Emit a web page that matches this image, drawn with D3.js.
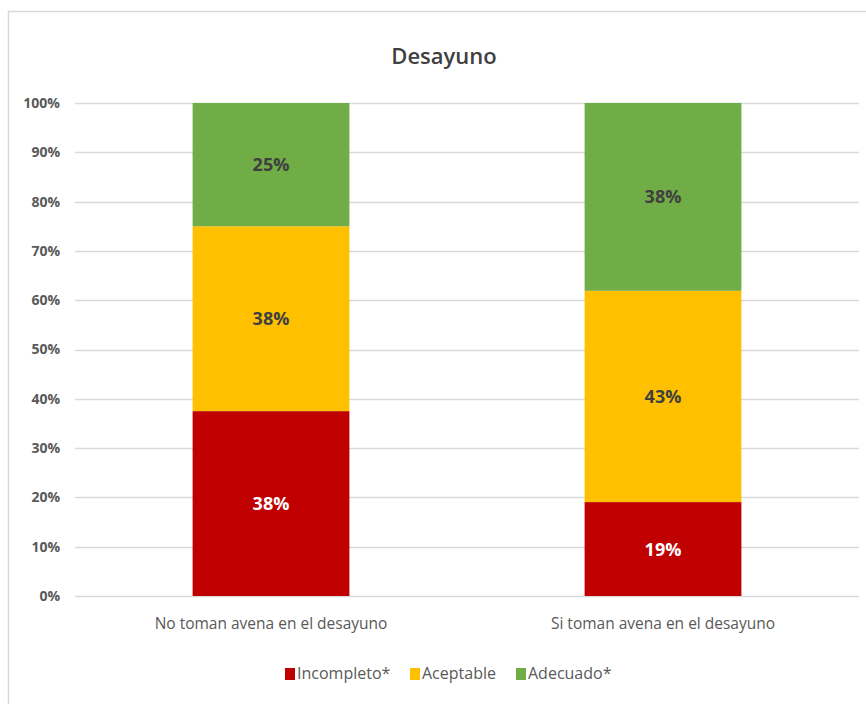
<!DOCTYPE html>
<html>
<head>
<meta charset="utf-8">
<script src="https://cdn.jsdelivr.net/npm/d3@7"></script>
<style>
  html, body { margin: 0; padding: 0; background: #fff; }
  svg { display: block; font-family: "Open Sans", sans-serif; }
</style>
</head>
<body>
<svg id="chart" width="866" height="704"></svg>
<script>
// Categories and stacked shares (fraction of each group)
const categories = ["No toman avena en el desayuno", "Si toman avena en el desayuno"];
const seriesNames = ["Incompleto*", "Aceptable", "Adecuado*"];
const incompleto = [0.375, 0.1905];
const aceptable  = [0.375, 0.4286];
const adecuado   = [0.25,  0.381];
const yTicks = [0, 0.1, 0.2, 0.3, 0.4, 0.5, 0.6, 0.7, 0.8, 0.9, 1.0];

const colors = { "Incompleto*": "#C00000", "Aceptable": "#FFC000", "Adecuado*": "#70AD47" };
const labelColors = { "Incompleto*": "#ffffff", "Aceptable": "#404040", "Adecuado*": "#404040" };

const rows = categories.map((c, i) => ({
  category: c,
  "Incompleto*": incompleto[i],
  "Aceptable": aceptable[i],
  "Adecuado*": adecuado[i]
}));

const svg = d3.select("#chart");

// Outer chart frame
svg.append("rect")
  .attr("x", 8.5).attr("y", 11.5)
  .attr("width", 900).attr("height", 720)
  .attr("fill", "#fff").attr("stroke", "#D9D9D9").attr("stroke-width", 1.5);

const x = d3.scaleBand().domain(categories).range([75, 859])
  .paddingInner(0.6).paddingOuter(0.3);
const y = d3.scaleLinear().domain([0, 1]).range([596, 103]);

// Title
svg.append("text")
  .attr("x", 444).attr("y", 64)
  .attr("text-anchor", "middle")
  .attr("font-size", 22).attr("font-weight", 600)
  .attr("fill", "#404040")
  .text("Desayuno");

// Gridlines
svg.append("g").selectAll("line").data(yTicks).join("line")
  .attr("x1", 75).attr("x2", 859)
  .attr("y1", d => Math.round(y(d)) + 0.5).attr("y2", d => Math.round(y(d)) + 0.5)
  .attr("stroke", "#D9D9D9").attr("stroke-width", 1.5);

// Y axis
const yAxis = svg.append("g")
  .attr("transform", "translate(66,0)")
  .call(d3.axisLeft(y).tickValues(yTicks).tickFormat(d3.format(".0%")).tickSize(0).tickPadding(6));
yAxis.select(".domain").remove();
yAxis.selectAll("text")
  .attr("font-size", 14).attr("font-weight", "bold")
  .attr("fill", "#595959").attr("font-family", "Open Sans, sans-serif");

// Stacked bars
const stack = d3.stack().keys(seriesNames)(rows);
const layers = svg.append("g").selectAll("g").data(stack).join("g")
  .attr("fill", d => colors[d.key]);
layers.selectAll("rect").data(d => d).join("rect")
  .attr("x", d => x(d.data.category))
  .attr("width", x.bandwidth())
  .attr("y", d => y(d[1]))
  .attr("height", d => y(d[0]) - y(d[1]));

// Segment value labels
const fmt = d3.format(".0%");
svg.append("g").selectAll("text")
  .data(stack.flatMap(s => s.map(p => ({ key: s.key, p }))))
  .join("text")
  .attr("x", d => x(d.p.data.category) + x.bandwidth() / 2)
  .attr("y", d => (y(d.p[0]) + y(d.p[1])) / 2)
  .attr("dy", "0.36em")
  .attr("text-anchor", "middle")
  .attr("font-size", 18).attr("font-weight", "bold")
  .attr("fill", d => labelColors[d.key])
  .text(d => fmt(d.p[1] - d.p[0]));

// X axis category labels
const xAxis = svg.append("g")
  .attr("transform", "translate(0,596)")
  .call(d3.axisBottom(x).tickSize(0).tickPadding(22));
xAxis.select(".domain").remove();
xAxis.selectAll("text")
  .attr("font-size", 15.5).attr("fill", "#595959")
  .attr("font-family", "Open Sans, sans-serif");

// Legend
const legendX = [285, 410, 516];
const legend = svg.append("g").selectAll("g").data(seriesNames).join("g")
  .attr("transform", (d, i) => `translate(${legendX[i]},668)`);
legend.append("rect")
  .attr("width", 10).attr("height", 12)
  .attr("fill", d => colors[d]);
legend.append("text")
  .attr("x", 12).attr("y", 11)
  .attr("font-size", 16).attr("fill", "#595959")
  .text(d => d);
</script>
</body>
</html>
